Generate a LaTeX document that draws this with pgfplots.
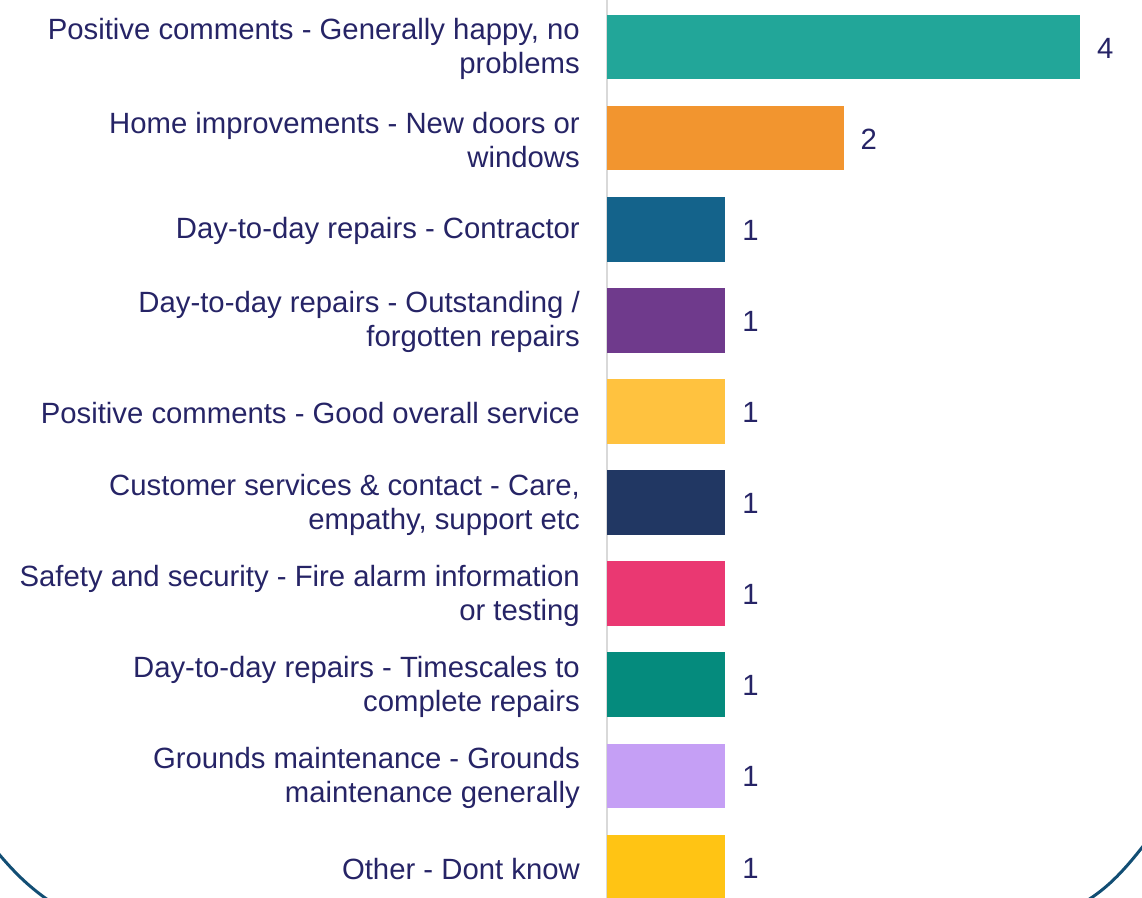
\documentclass[border=0pt]{standalone}
\usepackage{fontspec}
\setmainfont{Liberation Sans}
\usepackage{pgfplots}
\pgfplotsset{compat=1.18}
\definecolor{txt}{HTML}{262466}
\definecolor{c1}{HTML}{22A699}
\definecolor{c2}{HTML}{F2952F}
\definecolor{c3}{HTML}{14638B}
\definecolor{c4}{HTML}{6F3A8C}
\definecolor{c5}{HTML}{FFC23F}
\definecolor{c6}{HTML}{213763}
\definecolor{c7}{HTML}{EA3872}
\definecolor{c8}{HTML}{058B7D}
\definecolor{c9}{HTML}{C59FF5}
\definecolor{c10}{HTML}{FFC414}
\definecolor{arc}{HTML}{124E74}
\begin{document}
\begin{tikzpicture}
\begin{axis}[
  at={(607bp,0bp)}, anchor=south west,
  scale only axis, width=535bp, height=898bp,
  xbar, bar shift=0pt, bar width=0.71,
  xmin=0, xmax=4.524,
  ymin=-0.516, ymax=9.34, y dir=reverse,
  hide x axis,
  axis y line*=left,
  y axis line style={draw=black!15, line width=1.5bp, -},
  major tick length=0pt,
  /pgf/number format/assume math mode=true,
  ytick={0,...,9},
  yticklabels={
    {Positive comments - Generally happy, no\\problems},
    {Home improvements - New doors or\\windows},
    {Day-to-day repairs - Contractor},
    {Day-to-day repairs - Outstanding /\\forgotten repairs},
    {Positive comments - Good overall service},
    {Customer services \& contact - Care,\\empathy, support etc},
    {Safety and security - Fire alarm information\\or testing},
    {Day-to-day repairs - Timescales to\\complete repairs},
    {Grounds maintenance - Grounds\\maintenance generally},
    {Other - Dont know}},
  yticklabel style={align=right, inner sep=0pt, xshift=-27bp, yshift=-2bp, text=txt,
    font=\fontsize{29.3bp}{34bp}\selectfont},
  nodes near coords,
  nodes near coords style={anchor=west, inner sep=0pt, xshift=17bp, yshift=-1bp, text=txt,
    font=\fontsize{29.3bp}{34bp}\selectfont},
  every axis plot/.append style={draw=none},
]
\addplot[fill=c1] coordinates {(4,0)};
\addplot[fill=c2] coordinates {(2,1)};
\addplot[fill=c3] coordinates {(1,2)};
\addplot[fill=c4] coordinates {(1,3)};
\addplot[fill=c5] coordinates {(1,4)};
\addplot[fill=c6] coordinates {(1,5)};
\addplot[fill=c7] coordinates {(1,6)};
\addplot[fill=c8] coordinates {(1,7)};
\addplot[fill=c9] coordinates {(1,8)};
\addplot[fill=c10] coordinates {(1,9)};
\end{axis}
\draw[arc, line width=3bp] (-2bp,45bp) .. controls (14bp,26bp) and (28bp,12bp) .. (48bp,-2bp);
\draw[arc, line width=3bp] (1144bp,53bp) .. controls (1126bp,30bp) and (1110bp,12bp) .. (1088bp,-2bp);
\pgfresetboundingbox
\path[use as bounding box] (0,0) rectangle (1142bp,898bp);
\end{tikzpicture}
\end{document}
